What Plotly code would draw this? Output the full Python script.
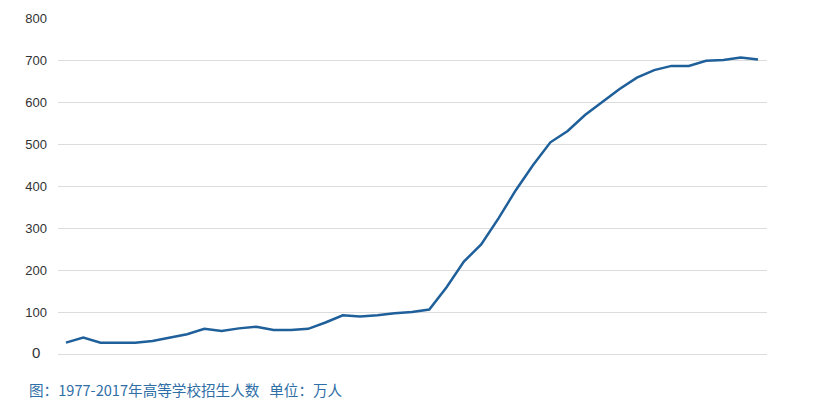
import plotly.graph_objects as go

# 1977-2017 higher-education enrolment, 万人
years = list(range(1977, 2018))
enrol = [27, 39, 27, 27, 27, 31, 39, 47, 60, 55,
         61, 65, 57, 57, 60, 75, 92, 89, 92, 97,
         100, 106, 159, 220, 261, 323, 390, 450, 504, 531,
         569, 601, 631, 658, 676, 686, 686, 698, 700, 706,
         701]

tick_vals = [0, 100, 200, 300, 400, 500, 600, 700, 800]
tick_text = ["", "100", "200", "300", "400", "500", "600", "700", "800"]
caption = "图：1977-2017年高等学校招生人数&nbsp;&nbsp;&nbsp;单位：万人"

fig = go.Figure()
fig.add_trace(go.Scatter(
    x=years, y=enrol, mode="lines",
    line=dict(color="#1f5f9a", width=2.5),
    hoverinfo="x+y",
))

# page has an 8px body margin, so the figure is made 8px smaller
fig.update_layout(
    width=816, height=396,
    margin=dict(l=50, r=57, t=10, b=50),
    paper_bgcolor="white", plot_bgcolor="white",
    showlegend=False,
    font=dict(family="Liberation Sans, Arial, sans-serif", size=13, color="#333333"),
    xaxis=dict(range=[1976.54, 2017.52], showgrid=False, showticklabels=False,
               zeroline=False, showline=False, ticks="", automargin=False),
    yaxis=dict(range=[0, 800], tickvals=tick_vals, ticktext=tick_text,
               showgrid=True, gridcolor="#dcdcdc", gridwidth=1,
               zeroline=True, zerolinecolor="#dcdcdc", zerolinewidth=1,
               showline=False, ticks="", ticklabelstandoff=10, automargin=False,
               tickfont=dict(size=13, color="#333333")),
    annotations=[
        dict(text="0", xref="paper", yref="y", x=0, y=0, xanchor="right",
             yanchor="middle", xshift=-16, yshift=2, showarrow=False,
             font=dict(size=15, color="#333333")),
        dict(text=caption, xref="paper", yref="paper", x=-0.0437, y=-0.107,
             xanchor="left", yanchor="middle", showarrow=False,
             font=dict(family="Noto Sans CJK SC, sans-serif", size=14.6, color="#2f6ea6")),
    ],
)

fig.write_html("out.html")
